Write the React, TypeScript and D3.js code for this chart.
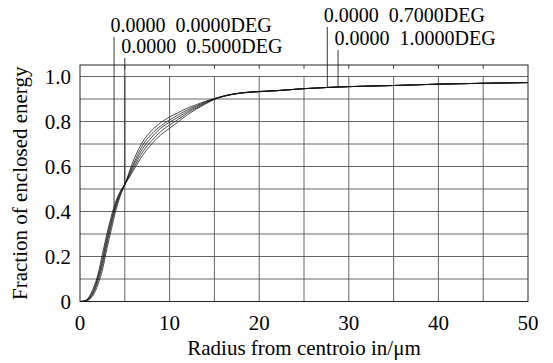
import React from "react";
import * as d3 from "d3";

const radii = [0, 0.5, 1, 1.5, 2, 2.5, 3, 3.5, 4, 4.5, 5, 6, 7, 8, 9, 10, 11, 12, 13, 14, 15, 16, 17, 18, 20, 22, 25, 28, 30, 35, 40, 45, 50];

const curveA = [0, 0.003, 0.02, 0.06, 0.12, 0.21, 0.30, 0.38, 0.445, 0.49, 0.52, 0.585, 0.65, 0.70, 0.74, 0.77, 0.80, 0.83, 0.855, 0.878, 0.898, 0.911, 0.92, 0.926, 0.932, 0.937, 0.946, 0.952, 0.955, 0.96, 0.966, 0.97, 0.973];
const curveB = [0, 0.002, 0.017, 0.05, 0.11, 0.19, 0.285, 0.365, 0.435, 0.485, 0.52, 0.595, 0.665, 0.715, 0.755, 0.785, 0.81, 0.838, 0.86, 0.881, 0.899, 0.912, 0.921, 0.927, 0.933, 0.937, 0.946, 0.952, 0.955, 0.96, 0.966, 0.97, 0.973];
const curveC = [0, 0.002, 0.014, 0.045, 0.10, 0.175, 0.27, 0.355, 0.43, 0.48, 0.52, 0.605, 0.68, 0.73, 0.77, 0.797, 0.82, 0.845, 0.865, 0.884, 0.9, 0.912, 0.921, 0.927, 0.933, 0.937, 0.946, 0.952, 0.955, 0.96, 0.966, 0.97, 0.973];
const curveD = [0, 0.001, 0.011, 0.038, 0.09, 0.16, 0.255, 0.34, 0.42, 0.475, 0.52, 0.615, 0.695, 0.745, 0.78, 0.807, 0.83, 0.852, 0.87, 0.887, 0.901, 0.913, 0.921, 0.927, 0.933, 0.937, 0.946, 0.952, 0.955, 0.96, 0.966, 0.97, 0.973];
const curveE = [0, 0.001, 0.008, 0.03, 0.075, 0.14, 0.235, 0.32, 0.405, 0.47, 0.52, 0.63, 0.71, 0.76, 0.795, 0.82, 0.84, 0.86, 0.875, 0.89, 0.902, 0.913, 0.922, 0.928, 0.934, 0.938, 0.946, 0.952, 0.955, 0.96, 0.966, 0.97, 0.973];

const allCurves = [curveA, curveB, curveC, curveD, curveE];

const fieldLabels = ["0.0000  0.0000DEG", "0.0000  0.5000DEG", "0.0000  0.7000DEG", "0.0000  1.0000DEG"];
const leaderRadii = [3.8, 5.0, 27.6, 28.8];
const leaderTop = [37, 58, 27, 50];
const labelBaselines = [32, 53, 22, 45];

const xTicks = [0, 10, 20, 30, 40, 50];
const xGrid = [5, 10, 15, 20, 25, 30, 35, 40, 45];
const yTicks = [0, 0.2, 0.4, 0.6, 0.8, 1.0];
const yGrid = [0.1, 0.2, 0.3, 0.4, 0.5, 0.6, 0.7, 0.8, 0.9, 1.0];

const W = 553;
const H = 363;
const left = 80;
const right = 528;
const top = 65;
const bottom = 301.5;

const FONT = "Liberation Serif, Times New Roman, DejaVu Serif, serif";

export default function App() {
  const x = d3.scaleLinear().domain([0, 50]).range([left, right]);
  const y = d3.scaleLinear().domain([0, 1]).range([bottom, 76.5]);
  const line = d3
    .line<number>()
    .x((_, i) => x(radii[i]))
    .y((d) => y(d))
    .curve(d3.curveMonotoneX);
  const valueAt = (r: number) => {
    const arr = curveC;
    const i = d3.bisectLeft(radii, r);
    if (i <= 0) return arr[0];
    const t = (r - radii[i - 1]) / (radii[i] - radii[i - 1]);
    return arr[i - 1] + t * (arr[i] - arr[i - 1]);
  };
  const ts = (size: number): React.CSSProperties => ({ fontFamily: FONT, fontSize: size + "px", whiteSpace: "pre" });
  return (
    <svg width={W} height={H} style={{ position: "absolute", left: 0, top: 0, background: "#fff" }}>
      <rect x={0} y={0} width={W} height={H} fill="#fff" />
      {yGrid.map((v) => (
        <line key={"hy" + v} x1={left} x2={right} y1={y(v)} y2={y(v)} stroke="#555" strokeWidth={0.9} />
      ))}
      {xGrid.map((v) => (
        <g key={"vx" + v}>
          <line x1={x(v)} x2={x(v)} y1={bottom} y2={y(1)} stroke="#555" strokeWidth={0.9} />
          <line x1={x(v)} x2={x(v)} y1={top} y2={top + 4} stroke="#333" strokeWidth={0.9} />
        </g>
      ))}
      <rect x={left} y={top} width={right - left} height={bottom - top} fill="none" stroke="#222" strokeWidth={1} />
      {allCurves.map((c, i) => (
        <path key={"c" + i} d={line(c) || ""} fill="none" stroke="#111" strokeWidth={0.75} />
      ))}
      {leaderRadii.map((r, i) => (
        <line key={"ld" + i} x1={x(r)} x2={x(r)} y1={leaderTop[i]} y2={y(valueAt(r))} stroke="#222" strokeWidth={0.9} />
      ))}
      {fieldLabels.map((t, i) => (
        <text key={"fl" + i} x={x(leaderRadii[i]) - 3.5} y={labelBaselines[i]} style={ts(20)} fill="#000">
          {t}
        </text>
      ))}
      {xTicks.map((v) => (
        <text key={"xt" + v} x={x(v)} y={330} style={ts(21)} textAnchor="middle" fill="#000">
          {v}
        </text>
      ))}
      {yTicks.map((v) => (
        <text key={"yt" + v} x={71} y={y(v)} dy="0.35em" style={ts(21)} textAnchor="end" fill="#000">
          {v === 0 ? "0" : v.toFixed(1)}
        </text>
      ))}
      <text x={(left + right) / 2} y={355} style={ts(21)} textAnchor="middle" fill="#000">
        Radius from centroio in/μm
      </text>
      <text transform={`translate(27, ${(top + bottom) / 2}) rotate(-90)`} style={ts(21)} textAnchor="middle" fill="#000">
        Fraction of enclosed energy
      </text>
    </svg>
  );
}
